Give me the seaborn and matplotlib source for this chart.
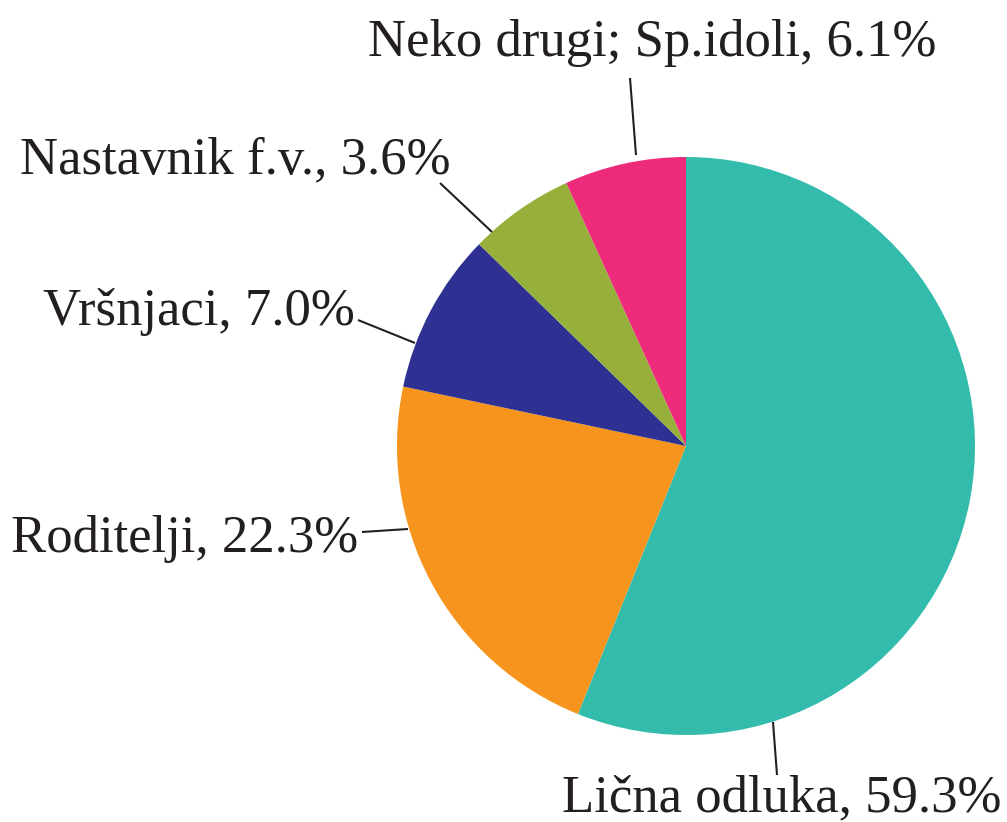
import matplotlib
matplotlib.use("Agg")
import matplotlib.pyplot as plt
import seaborn as sns

# ---- data ----
categories = ["Lična odluka", "Roditelji", "Vršnjaci", "Nastavnik f.v.", "Neko drugi; Sp.idoli"]
label_pct = [59.3, 22.3, 7.0, 3.6, 6.1]          # values printed in labels
slice_share = [56.1, 22.2, 9.0, 5.9, 6.8]        # slice sizes as drawn in the picture
colors = ["#33BBAC", "#F7941D", "#2E3192", "#97B03B", "#EE2A7B"]

sns.set_theme(style="white")
plt.rcParams["font.family"] = ["Liberation Serif", "DejaVu Serif"]

W, H, DPI = 1007, 822, 100
fig = plt.figure(figsize=(W / DPI, H / DPI), dpi=DPI)
ax = fig.add_axes([0, 0, 1, 1])

# pie geometry in pixels
CX, CY, R = 686, 446, 289

ax.pie(slice_share, colors=sns.color_palette(colors), startangle=90,
       counterclock=False, radius=1, center=(0, 0),
       wedgeprops=dict(linewidth=0))

ax.set_xlim(-CX / R, (W - CX) / R)
ax.set_ylim(-(H - CY) / R, CY / R)
ax.set_aspect("equal", adjustable="box")
ax.axis("off")


def px(x, y):
    return ((x - CX) / R, (CY - y) / R)


# layout: (text anchor x, baseline y, ha), leader line start, leader line end (pixels)
layout = [
    ((782, 811, "center"), (777, 775), (773, 722)),
    ((358, 552, "right"), (362, 532), (408, 529)),
    ((355, 325, "right"), (358, 320), (415, 343)),
    ((450, 173, "right"), (440, 183), (492, 232)),
    ((652, 56, "center"), (630, 78), (636, 155)),
]

text_color = "#231F20"
for cat, pct, (tpos, l0, l1) in zip(categories, label_pct, layout):
    tx, ty, ha = tpos
    x0, y0 = px(*l0)
    x1, y1 = px(*l1)
    ax.plot([x0, x1], [y0, y1], color=text_color, lw=1.5, solid_capstyle="butt")
    ax.text(*px(tx, ty), f"{cat}, {pct:.1f}%", ha=ha, va="baseline",
            fontsize=38, color=text_color)

fig.savefig("out.png", dpi=DPI, facecolor="white")
